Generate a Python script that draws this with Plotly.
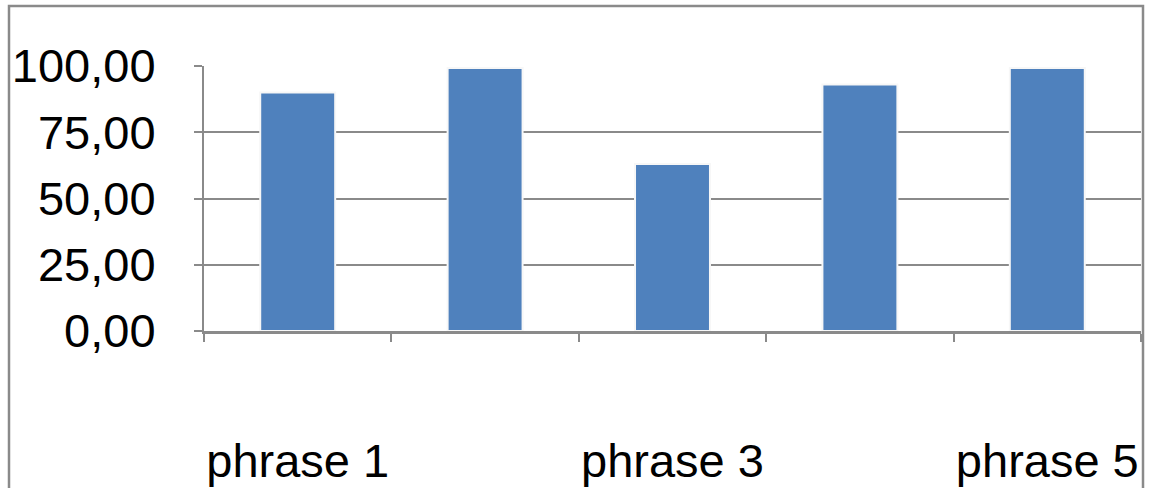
import plotly.graph_objects as go

categories = ["phrase 1", "phrase 2", "phrase 3", "phrase 4", "phrase 5"]
values = [90.0, 99.2, 63.0, 93.0, 99.2]
tick_labels = ["phrase 1", "", "phrase 3", "", "phrase 5"]
y_ticks = [0, 25, 50, 75, 100]
y_tick_text = ["0,00", "25,00", "50,00", "75,00", "100,00"]

W, H = 1149, 488
L, R, T, B = 204, 8, 66, 157
pw = W - L - R
ph = H - T - B

GRAY = "#8a8a8a"
FONT = dict(family="Liberation Sans, Arial, Helvetica, sans-serif", size=47, color="black")

fig = go.Figure(go.Bar(
    x=categories, y=values,
    marker=dict(color="#4F81BD", line=dict(color="#f7f7f7", width=2)),
))

fig.update_layout(
    width=W, height=H,
    margin=dict(l=L, r=R, t=T, b=B, pad=0, autoexpand=False),
    paper_bgcolor="white", plot_bgcolor="white",
    bargap=0.6, showlegend=False,
    font=FONT,
    shapes=[dict(
        type="rect", xref="paper", yref="paper",
        x0=(9 - L) / pw, x1=(1143 - L) / pw,
        y0=-(560 - (H - B)) / ph, y1=((H - B) - 6) / ph,
        line=dict(color=GRAY, width=2.5), fillcolor="rgba(0,0,0,0)", layer="below",
    )],
)

fig.update_xaxes(
    type="category", automargin=False,
    tickmode="array", tickvals=categories, ticktext=tick_labels,
    tickson="boundaries", ticks="outside", ticklen=8, tickwidth=2, tickcolor=GRAY,
    showline=True, linecolor=GRAY, linewidth=3,
    showgrid=False, ticklabelstandoff=87,
    tickfont=FONT, tickangle=0,
)

fig.update_yaxes(
    range=[0, 100], automargin=False,
    tickmode="array", tickvals=y_ticks, ticktext=y_tick_text,
    ticks="outside", ticklen=8, tickwidth=2, tickcolor=GRAY,
    showline=True, linecolor=GRAY, linewidth=2,
    showgrid=True, gridcolor=GRAY, gridwidth=2,
    zeroline=False, ticklabelstandoff=29, tickfont=FONT,
)

fig.write_html(
    "out.html",
    config={"displayModeBar": False},
    post_script="document.body.style.margin='0';document.body.style.overflow='hidden';",
)
